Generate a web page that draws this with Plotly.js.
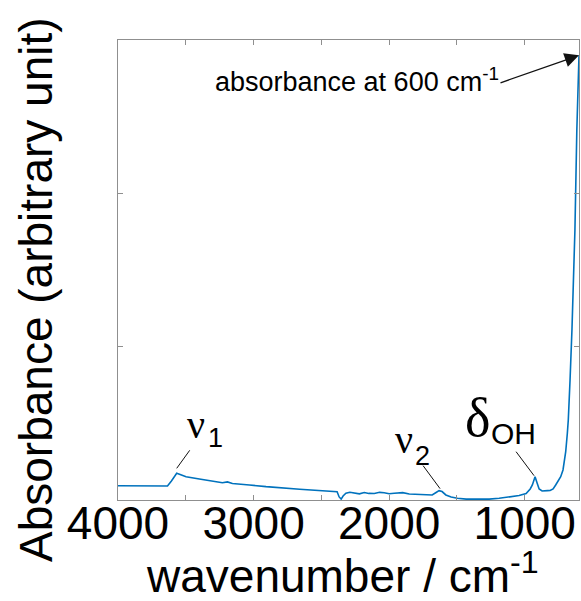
<!DOCTYPE html>
<html>
<head>
<meta charset="utf-8">
<script src="https://cdn.plot.ly/plotly-3.0.1.min.js"></script>
<style>html,body{margin:0;padding:0;background:#fff;}#chart{width:581px;height:601px;}</style>
</head>
<body>
<div id="chart"></div>
<script>
// Spectrum (wavenumber in cm^-1, absorbance in arbitrary units)
const wavenumber = [4000, 3842, 3694, 3635, 3606, 3567, 3532, 3498, 3400, 3289, 3230, 3193, 3156, 3031, 2908, 2660, 2420, 2384, 2369, 2354, 2340, 2319, 2290, 2258, 2220, 2184, 2150, 2110, 2070, 2037, 2000, 1963, 1900, 1852, 1741, 1683, 1654, 1632, 1610, 1582, 1543, 1497, 1432, 1361, 1263, 1189, 1115, 1042, 990, 960, 944, 924, 909, 894, 872, 850, 833, 813, 791, 772, 747, 735, 718, 710, 698, 686, 679, 666, 652, 630, 616, 600];
const absorbance = [0.093, 0.091, 0.088, 0.091, 0.124, 0.174, 0.163, 0.152, 0.137, 0.124, 0.113, 0.118, 0.108, 0.098, 0.087, 0.070, 0.059, 0.054, 0.020, 0.006, 0.026, 0.044, 0.050, 0.046, 0.040, 0.049, 0.043, 0.042, 0.050, 0.047, 0.041, 0.044, 0.048, 0.039, 0.036, 0.033, 0.049, 0.061, 0.055, 0.033, 0.020, 0.011, 0.006, 0.006, 0.006, 0.011, 0.020, 0.029, 0.042, 0.072, 0.098, 0.152, 0.111, 0.072, 0.059, 0.062, 0.061, 0.062, 0.072, 0.098, 0.130, 0.152, 0.196, 0.239, 0.315, 0.435, 0.522, 0.783, 1.109, 1.761, 2.413, 2.900];

const xTickVals = [4000, 3000, 2000, 1000];
const xTickText = ['4000', '3000', '2000', '1000'];
const xMinorTickVals = [3500, 2500, 1500];
const yTickVals = [0, 1, 2, 3];
const xRange = [4000, 600];
const yRange = [0, 3];

const sans = 'Liberation Sans, Arial, Helvetica, sans-serif';
const serif = 'Liberation Serif, Times New Roman, serif';
const frame = '#8f8f8f';

// indices of the labelled features in the arrays above
const iNu1 = wavenumber.indexOf(3567);
const iNu2 = wavenumber.indexOf(1632);
const iDOH = wavenumber.indexOf(924);
const iEnd = wavenumber.length - 1;

const trace = {
  x: wavenumber, y: absorbance, type: 'scatter', mode: 'lines',
  line: {color: '#0072BD', width: 1.6}, hoverinfo: 'skip', showlegend: false
};

// label leader line anchored on a data point, with pixel offsets (up = positive)
function leader(i, x0, y0, x1, y1) {
  return {type: 'line', xref: 'x', yref: 'y',
    xsizemode: 'pixel', ysizemode: 'pixel',
    xanchor: wavenumber[i], yanchor: absorbance[i],
    x0: x0, y0: y0, x1: x1, y1: y1,
    line: {color: '#111', width: 1}};
}
function px2paper(px, py) { return [(px - 118) / 461, (500 - py) / 460]; }
function textAnn(px, py, text, size, family, angle) {
  const p = px2paper(px, py);
  return {x: p[0], y: p[1], xref: 'paper', yref: 'paper', text: text, showarrow: false,
    textangle: angle || 0, xanchor: 'center', yanchor: 'middle',
    font: {family: family, size: size, color: '#000'}};
}

const layout = {
  width: 581, height: 601,
  margin: {l: 118, r: 2, t: 40, b: 101, pad: 0},
  paper_bgcolor: '#fff', plot_bgcolor: '#fff',
  showlegend: false,
  font: {family: sans, color: '#000'},
  xaxis: {
    range: xRange, autorange: false,
    tickmode: 'array', tickvals: xTickVals, ticktext: xTickText,
    ticks: 'inside', ticklen: 5, tickwidth: 1, tickcolor: frame,
    minor: {tickmode: 'array', tickvals: xMinorTickVals, ticks: 'inside', ticklen: 5, tickwidth: 1, tickcolor: frame, showgrid: false},
    showline: true, linecolor: frame, linewidth: 1, mirror: 'ticks',
    showgrid: false, zeroline: false, ticklabelstandoff: -17,
    tickfont: {family: sans, size: 46, color: '#000'}
  },
  yaxis: {
    range: yRange, autorange: false,
    tickmode: 'array', tickvals: yTickVals, showticklabels: false,
    ticks: 'inside', ticklen: 5, tickwidth: 1, tickcolor: frame,
    showline: true, linecolor: frame, linewidth: 1, mirror: 'ticks',
    showgrid: false, zeroline: false
  },
  shapes: [
    leader(iNu1, 0, 5, 13, 23),
    leader(iNu2, 1, 2, -16, 25),
    leader(iDOH, -1, 1, -19, 25)
  ],
  annotations: [
    textAnn(342, 573, 'wavenumber / cm<sup>-1</sup>', 46, sans),
    textAnn(36, 290, 'Absorbance (arbitrary unit)', 46, sans, -90),
    textAnn(357, 80, 'absorbance at 600 cm<sup>-1</sup>', 27, sans),
    {x: wavenumber[iEnd], y: absorbance[iEnd], xref: 'x', yref: 'y', text: '', showarrow: true,
      arrowhead: 2, arrowsize: 2.2, arrowwidth: 1.3, arrowcolor: '#111', ax: -80, ay: 28, standoff: 0},
    textAnn(196, 424, 'ν', 40, serif),
    textAnn(215, 438, '1', 27, sans),
    textAnn(404, 439, 'ν', 40, serif),
    textAnn(422, 456, '2', 27, sans),
    textAnn(477, 418, 'δ', 54, serif),
    textAnn(513, 433, 'OH', 30, sans)
  ]
};

Plotly.newPlot('chart', [trace], layout, {staticPlot: true, displayModeBar: false});
</script>
</body>
</html>
